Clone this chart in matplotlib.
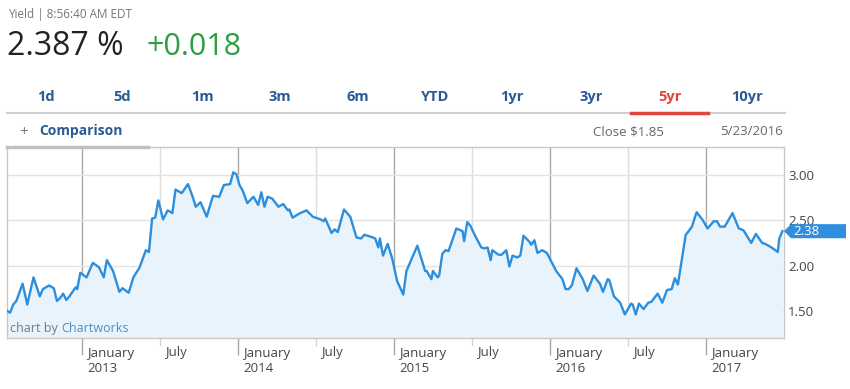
import matplotlib
matplotlib.use("Agg")
import matplotlib.pyplot as plt
import matplotlib.transforms as mtransforms
from matplotlib.patches import Polygon

# ---------------- data ----------------
years = [2012.52, 2012.54, 2012.56, 2012.58, 2012.62, 2012.65, 2012.69, 2012.73, 2012.75, 2012.79,
         2012.82, 2012.84, 2012.86, 2012.88, 2012.90, 2012.92, 2012.96, 2012.97, 2012.99, 2013.03,
         2013.07, 2013.11, 2013.14, 2013.16, 2013.20, 2013.24, 2013.26, 2013.30, 2013.33, 2013.37,
         2013.41, 2013.43, 2013.45, 2013.47, 2013.49, 2013.52, 2013.55, 2013.58, 2013.60, 2013.64,
         2013.68, 2013.71, 2013.73, 2013.76, 2013.80, 2013.84, 2013.88, 2013.91, 2013.95, 2013.97,
         2013.99, 2014.01, 2014.03, 2014.06, 2014.10, 2014.13, 2014.15, 2014.17, 2014.19, 2014.22,
         2014.26, 2014.29, 2014.32, 2014.33, 2014.35, 2014.40, 2014.44, 2014.48, 2014.53, 2014.55,
         2014.56, 2014.60, 2014.62, 2014.64, 2014.68, 2014.72, 2014.76, 2014.79, 2014.81, 2014.85,
         2014.88, 2014.90, 2014.91, 2014.93, 2014.96, 2014.99, 2015.02, 2015.06, 2015.08, 2015.15,
         2015.20, 2015.21, 2015.24, 2015.25, 2015.28, 2015.29, 2015.31, 2015.33, 2015.35, 2015.40,
         2015.44, 2015.45, 2015.47, 2015.49, 2015.52, 2015.56, 2015.58, 2015.60, 2015.62, 2015.63,
         2015.67, 2015.69, 2015.72, 2015.74, 2015.76, 2015.79, 2015.81, 2015.83, 2015.87, 2015.88,
         2015.90, 2015.92, 2015.95, 2015.98, 2016.01, 2016.04, 2016.08, 2016.10, 2016.12, 2016.14,
         2016.17, 2016.21, 2016.24, 2016.28, 2016.32, 2016.34, 2016.37, 2016.38, 2016.41, 2016.45,
         2016.48, 2016.52, 2016.53, 2016.55, 2016.57, 2016.60, 2016.63, 2016.65, 2016.69, 2016.72,
         2016.75, 2016.78, 2016.80, 2016.82, 2016.87, 2016.88, 2016.91, 2016.94, 2016.98, 2017.01,
         2017.05, 2017.07, 2017.09, 2017.12, 2017.17, 2017.21, 2017.24, 2017.29, 2017.32, 2017.36,
         2017.38, 2017.42, 2017.46, 2017.47, 2017.49]
yields = [1.50, 1.48, 1.57, 1.61, 1.80, 1.57, 1.87, 1.66, 1.74, 1.78,
          1.75, 1.61, 1.64, 1.69, 1.62, 1.66, 1.76, 1.74, 1.92, 1.87,
          2.03, 1.98, 1.87, 2.06, 1.94, 1.71, 1.75, 1.70, 1.87, 1.98,
          2.17, 2.15, 2.52, 2.53, 2.72, 2.51, 2.61, 2.58, 2.84, 2.80,
          2.90, 2.76, 2.65, 2.70, 2.54, 2.77, 2.76, 2.89, 2.90, 3.03,
          3.01, 2.89, 2.83, 2.69, 2.76, 2.67, 2.81, 2.65, 2.76, 2.74,
          2.65, 2.68, 2.61, 2.62, 2.53, 2.58, 2.61, 2.54, 2.51, 2.49,
          2.52, 2.36, 2.40, 2.37, 2.62, 2.54, 2.31, 2.30, 2.34, 2.32,
          2.30, 2.20, 2.30, 2.11, 2.24, 2.07, 1.83, 1.68, 1.94, 2.22,
          1.94, 1.94, 1.85, 1.94, 1.87, 1.89, 2.13, 2.17, 2.16, 2.41,
          2.38, 2.27, 2.48, 2.44, 2.33, 2.20, 2.19, 2.20, 2.06, 2.17,
          2.12, 2.12, 2.17, 1.99, 2.11, 2.09, 2.11, 2.33, 2.26, 2.23,
          2.28, 2.14, 2.17, 2.14, 2.04, 1.94, 1.85, 1.74, 1.74, 1.78,
          1.97, 1.85, 1.72, 1.89, 1.80, 1.71, 1.85, 1.84, 1.66, 1.59,
          1.46, 1.58, 1.57, 1.46, 1.58, 1.52, 1.59, 1.60, 1.69, 1.59,
          1.73, 1.74, 1.86, 1.79, 2.34, 2.36, 2.43, 2.59, 2.50, 2.41,
          2.49, 2.49, 2.43, 2.43, 2.58, 2.41, 2.39, 2.25, 2.35, 2.25,
          2.24, 2.20, 2.15, 2.30, 2.38]

y_ticks = [1.50, 2.00, 2.50, 3.00]
y_tick_labels = ["1.50", "2.00", "2.50", "3.00"]
jan_ticks = [2013, 2014, 2015, 2016, 2017]
jan_labels = ["January\n2013", "January\n2014", "January\n2015", "January\n2016", "January\n2017"]
jul_ticks = [2013.5, 2014.5, 2015.5, 2016.5]
jul_labels = ["July", "July", "July", "July"]
tabs = ["1d", "5d", "1m", "3m", "6m", "YTD", "1yr", "3yr", "5yr", "10yr"]
active_tab = "5yr"
yield_value = "2.387 %"
change_value = "+0.018"

# ---------------- styling ----------------
plt.rcParams['font.family'] = ['Open Sans', 'DejaVu Sans']
W, H = 850, 389
fig = plt.figure(figsize=(W / 100, H / 100), dpi=100)
fig.patch.set_facecolor('white')

def fx(x):
    return x / W

def fy(y):
    return 1 - y / H

BLUE_TXT = '#2a5a96'
GRAY_TXT = '#666666'
LINE = '#2b8fde'
FILL = '#e9f3fc'

# header
fig.text(fx(8), fy(18), "Yield | 8:56:40 AM EDT", fontsize=8.5, color='#777777', va='baseline')
fig.text(fx(7), fy(55), yield_value, fontsize=23, color='#222222', va='baseline')
fig.text(fx(147), fy(55), change_value, fontsize=22, color='#2e9e3e', va='baseline')

# tabs
tab_x = [46, 122, 202, 280, 358, 435, 512, 591, 670, 747]
for t, x in zip(tabs, tab_x):
    fig.text(fx(x), fy(101), t, fontsize=10.5, fontweight='bold',
             color='#e0463c' if t == active_tab else BLUE_TXT, ha='center', va='baseline')
fig.add_artist(plt.Line2D([fx(7), fx(785)], [fy(113), fy(113)], color='#d0d0d0', lw=1.5))
fig.add_artist(plt.Line2D([fx(631), fx(708)], [fy(112.5), fy(112.5)], color='#e0463c', lw=2.5))

fig.text(fx(19), fy(136), "+", fontsize=11, color='#777777', va='baseline')
fig.text(fx(39), fy(135), "Comparison", fontsize=10, fontweight='bold', color=BLUE_TXT, va='baseline')
fig.text(fx(664), fy(135), "Close $1.85", fontsize=9.5, color=GRAY_TXT, va='baseline', ha='right')
fig.text(fx(783), fy(135), "5/23/2016", fontsize=9.5, color=GRAY_TXT, va='baseline', ha='right')

# ---------------- chart ----------------
left, right, top, bottom = 7, 784, 147, 338
ax = fig.add_axes([fx(left), fy(bottom), fx(right - left), (bottom - top) / H])
ax.set_xlim(2012.52, 2017.50)
ax.set_ylim(1.20, 3.31)
ymin = ax.get_ylim()[0]

ax.fill_between(years, yields, ymin, color=FILL, zorder=1, lw=0)
ax.plot(years, yields, color=LINE, lw=1.7, zorder=3, solid_joinstyle='round')

for s in ax.spines.values():
    s.set_color('#c8c8c8')
    s.set_linewidth(1)

ax.yaxis.tick_right()
ax.set_yticks(y_ticks)
ax.set_yticklabels(y_tick_labels)
ax.tick_params(axis='y', length=0, pad=3, labelsize=9.5, labelcolor='#444444')
ax.grid(axis='y', color='#e2e2e2', lw=1)

ax.set_xticks(jan_ticks)
ax.set_xticklabels(jan_labels)
ax.set_xticks(jul_ticks, minor=True)
ax.set_xticklabels(jul_labels, minor=True)
ax.tick_params(axis='x', which='major', length=12, width=1, color='#a8a8a8', pad=-5.5,
               labelsize=9.5, labelcolor='#444444')
ax.tick_params(axis='x', which='minor', length=6, width=1, color='#d4d4d4', pad=0,
               labelsize=9.5, labelcolor='#444444')
ax.grid(axis='x', which='major', color='#a8a8a8', lw=1)
ax.grid(axis='x', which='minor', color='#dcdcdc', lw=1)
ax.set_axisbelow(True)
off = mtransforms.ScaledTranslation(5 / 100, 0, fig.dpi_scale_trans)
for lab in ax.get_xticklabels(which='both'):
    lab.set_horizontalalignment('left')
    lab.set_verticalalignment('top')
    lab.set_linespacing(1.2)
    lab.set_transform(lab.get_transform() + off)

# comparison underline on top of the frame
fig.add_artist(plt.Line2D([fx(7), fx(148)], [fy(146.5), fy(146.5)], color='#c0c0c0', lw=2.5))

# watermark
t1 = ax.text(0.004, 0.03, "chart by ", transform=ax.transAxes, fontsize=9, color='#777777',
             va='baseline', ha='left', zorder=4)
fig.canvas.draw()
bb = t1.get_window_extent(renderer=fig.canvas.get_renderer())
shift = mtransforms.ScaledTranslation(bb.width / fig.dpi, 0, fig.dpi_scale_trans)
ax.text(0.004, 0.03, "Chartworks", transform=ax.transAxes + shift, fontsize=9,
        color='#4a8fc6', va='baseline', ha='left', zorder=4)

# last value badge
last = yields[-1]
btr = mtransforms.blended_transform_factory(fig.transFigure, ax.transData)
hh = 7 / 90.0  # half badge height in data units (90 px per 1.0)
poly = Polygon([[fx(784), last], [fx(791), last + hh], [fx(846), last + hh],
                [fx(846), last - hh], [fx(791), last - hh]], closed=True,
               transform=btr, facecolor='#2f8ee0', edgecolor='none', clip_on=False, zorder=6)
ax.add_patch(poly)
ax.text(fx(793), last, f"{last:.2f}", transform=btr, fontsize=9.5, color='white',
        va='center', ha='left', zorder=7, clip_on=False)

fig.savefig("out.png", dpi=100, facecolor='white')
